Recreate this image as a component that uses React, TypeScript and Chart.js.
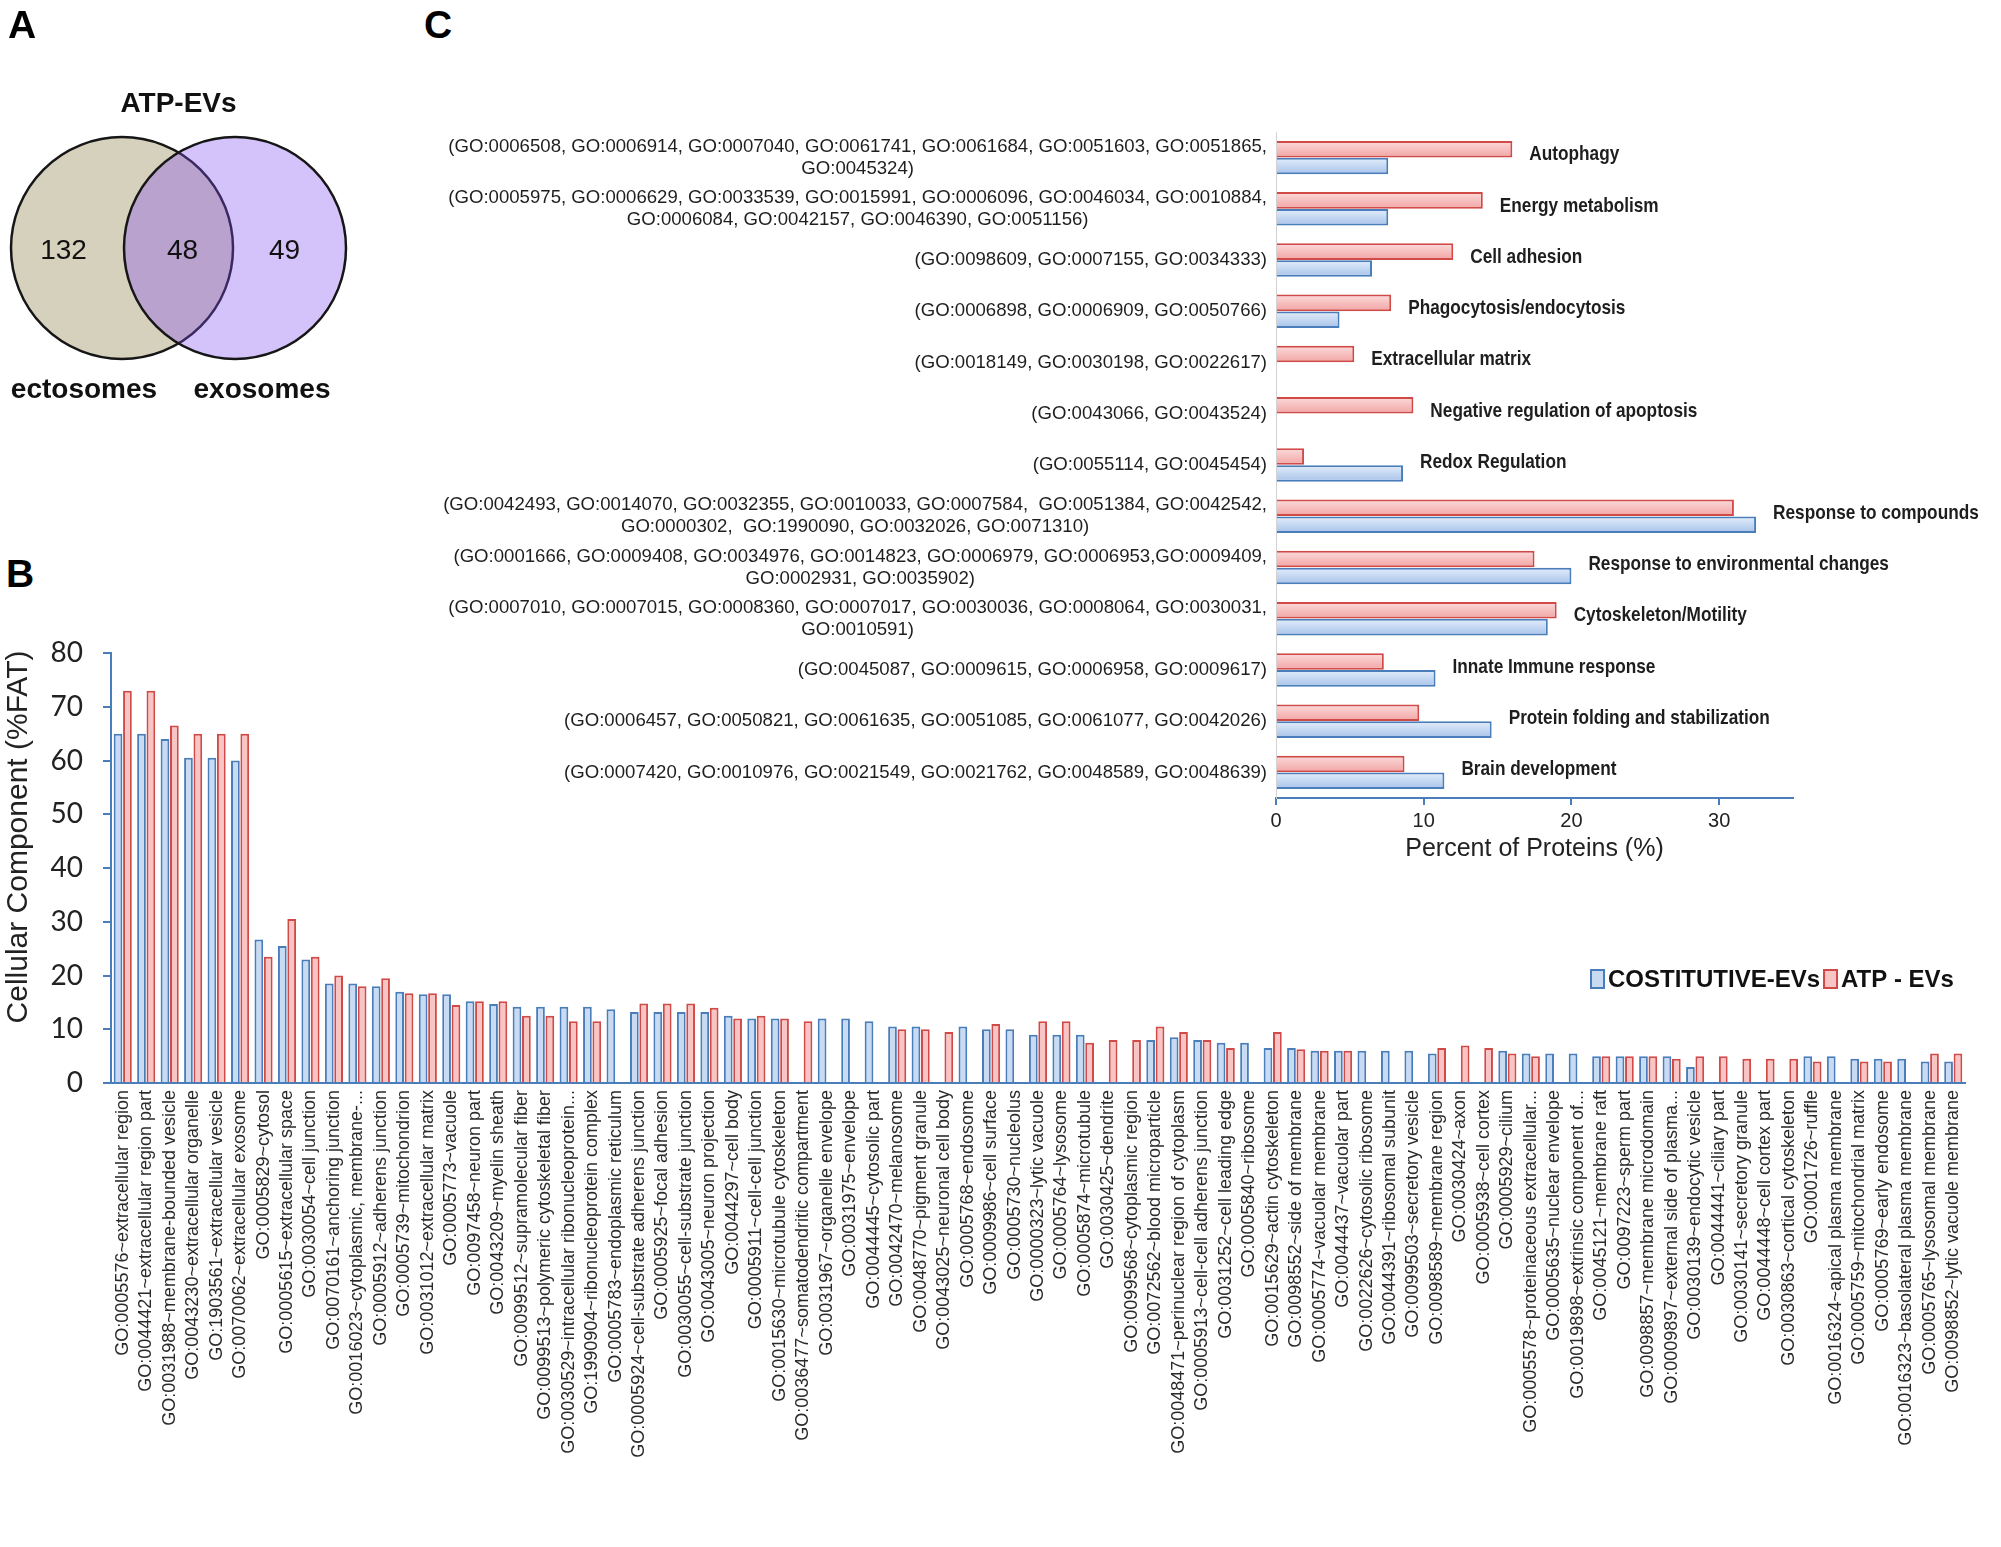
import React, { useEffect, useRef } from "react";
import { Chart, registerables } from "chart.js";

Chart.register(...registerables);

const FONT = '"Liberation Sans", Arial, sans-serif';
const TICKFONT = 'Lato, "Liberation Sans", sans-serif';

// ---------- Panel A : Venn ----------
const vennTitle = "ATP-EVs";
const vennSets = ["ectosomes", "exosomes"];
// [only ectosomes, shared, only exosomes]
const vennCounts = [132, 48, 49];

// ---------- Panel B : Cellular component ----------
const ccLabels = [
  "GO:0005576~extracellular region",
  "GO:0044421~extracellular region part",
  "GO:0031988~membrane-bounded vesicle",
  "GO:0043230~extracellular organelle",
  "GO:1903561~extracellular vesicle",
  "GO:0070062~extracellular exosome",
  "GO:0005829~cytosol",
  "GO:0005615~extracellular space",
  "GO:0030054~cell junction",
  "GO:0070161~anchoring junction",
  "GO:0016023~cytoplasmic, membrane-...",
  "GO:0005912~adherens junction",
  "GO:0005739~mitochondrion",
  "GO:0031012~extracellular matrix",
  "GO:0005773~vacuole",
  "GO:0097458~neuron part",
  "GO:0043209~myelin sheath",
  "GO:0099512~supramolecular fiber",
  "GO:0099513~polymeric cytoskeletal fiber",
  "GO:0030529~intracellular ribonucleoprotein...",
  "GO:1990904~ribonucleoprotein complex",
  "GO:0005783~endoplasmic reticulum",
  "GO:0005924~cell-substrate adherens junction",
  "GO:0005925~focal adhesion",
  "GO:0030055~cell-substrate junction",
  "GO:0043005~neuron projection",
  "GO:0044297~cell body",
  "GO:0005911~cell-cell junction",
  "GO:0015630~microtubule cytoskeleton",
  "GO:0036477~somatodendritic compartment",
  "GO:0031967~organelle envelope",
  "GO:0031975~envelope",
  "GO:0044445~cytosolic part",
  "GO:0042470~melanosome",
  "GO:0048770~pigment granule",
  "GO:0043025~neuronal cell body",
  "GO:0005768~endosome",
  "GO:0009986~cell surface",
  "GO:0005730~nucleolus",
  "GO:0000323~lytic vacuole",
  "GO:0005764~lysosome",
  "GO:0005874~microtubule",
  "GO:0030425~dendrite",
  "GO:0099568~cytoplasmic region",
  "GO:0072562~blood microparticle",
  "GO:0048471~perinuclear region of cytoplasm",
  "GO:0005913~cell-cell adherens junction",
  "GO:0031252~cell leading edge",
  "GO:0005840~ribosome",
  "GO:0015629~actin cytoskeleton",
  "GO:0098552~side of membrane",
  "GO:0005774~vacuolar membrane",
  "GO:0044437~vacuolar part",
  "GO:0022626~cytosolic ribosome",
  "GO:0044391~ribosomal subunit",
  "GO:0099503~secretory vesicle",
  "GO:0098589~membrane region",
  "GO:0030424~axon",
  "GO:0005938~cell cortex",
  "GO:0005929~cilium",
  "GO:0005578~proteinaceous extracellular...",
  "GO:0005635~nuclear envelope",
  "GO:0019898~extrinsic component of...",
  "GO:0045121~membrane raft",
  "GO:0097223~sperm part",
  "GO:0098857~membrane microdomain",
  "GO:0009897~external side of plasma...",
  "GO:0030139~endocytic vesicle",
  "GO:0044441~ciliary part",
  "GO:0030141~secretory granule",
  "GO:0044448~cell cortex part",
  "GO:0030863~cortical cytoskeleton",
  "GO:0001726~ruffle",
  "GO:0016324~apical plasma membrane",
  "GO:0005759~mitochondrial matrix",
  "GO:0005769~early endosome",
  "GO:0016323~basolateral plasma membrane",
  "GO:0005765~lysosomal membrane",
  "GO:0098852~lytic vacuole membrane",
];

const ccConstitutive: (number | null)[] = [
  65, 65, 64, 60.5, 60.5, 60, 26.7, 25.5, 23, 18.5,
  18.5, 18, 17, 16.5, 16.5, 15.2, 14.7, 14.2, 14.2, 14.2,
  14.2, 13.7, 13.2, 13.2, 13.2, 13.2, 12.5, 12, 12, null,
  12, 12, 11.5, 10.5, 10.5, null, 10.5, 10, 10, 9,
  9, 9, null, null, 8, 8.5, 8, 7.5, 7.5, 6.5,
  6.5, 6, 6, 6, 6, 6, 5.5, null, null, 6,
  5.5, 5.5, 5.5, 5, 5, 5, 5, 3, null, null,
  null, null, 5, 5, 4.5, 4.5, 4.5, 4, 4,
];

const ccATP: (number | null)[] = [
  73, 73, 66.5, 65, 65, 65, 23.5, 30.5, 23.5, 20,
  18, 19.5, 16.7, 16.7, 14.5, 15.2, 15.2, 12.5, 12.5, 11.5,
  11.5, null, 14.8, 14.8, 14.8, 14, 12, 12.5, 12, 11.5,
  null, null, null, 10, 10, 9.5, null, 11, null, 11.5,
  11.5, 7.5, 8, 8, 10.5, 9.5, 8, 6.5, null, 9.5,
  6.3, 6, 6, null, null, null, 6.5, 7, 6.5, 5.5,
  5, null, null, 5, 5, 5, 4.5, 5, 5, 4.5,
  4.5, 4.5, 4, null, 4, 4, null, 5.5, 5.5,
];

const seriesNames = ["COSTITUTIVE-EVs", "ATP - EVs"];
const ccYTitle = "Cellular Component (%FAT)";

// ---------- Panel C : Biological process ----------
const bpNames = [
  "Autophagy",
  "Energy metabolism",
  "Cell adhesion",
  "Phagocytosis/endocytosis",
  "Extracellular matrix",
  "Negative regulation of apoptosis",
  "Redox Regulation",
  "Response to compounds",
  "Response to environmental changes",
  "Cytoskeleton/Motility",
  "Innate Immune response",
  "Protein folding and stabilization",
  "Brain development",
];

const bpTerms: string[][] = [
  ["(GO:0006508, GO:0006914, GO:0007040, GO:0061741, GO:0061684, GO:0051603, GO:0051865,", "GO:0045324)"],
  ["(GO:0005975, GO:0006629, GO:0033539, GO:0015991, GO:0006096, GO:0046034, GO:0010884,", "GO:0006084, GO:0042157, GO:0046390, GO:0051156)"],
  ["(GO:0098609, GO:0007155, GO:0034333)"],
  ["(GO:0006898, GO:0006909, GO:0050766)"],
  ["(GO:0018149, GO:0030198, GO:0022617)"],
  ["(GO:0043066, GO:0043524)"],
  ["(GO:0055114, GO:0045454)"],
  ["(GO:0042493, GO:0014070, GO:0032355, GO:0010033, GO:0007584,  GO:0051384, GO:0042542,", "GO:0000302,  GO:1990090, GO:0032026, GO:0071310)"],
  ["(GO:0001666, GO:0009408, GO:0034976, GO:0014823, GO:0006979, GO:0006953,GO:0009409,", "GO:0002931, GO:0035902)"],
  ["(GO:0007010, GO:0007015, GO:0008360, GO:0007017, GO:0030036, GO:0008064, GO:0030031,", "GO:0010591)"],
  ["(GO:0045087, GO:0009615, GO:0006958, GO:0009617)"],
  ["(GO:0006457, GO:0050821, GO:0061635, GO:0051085, GO:0061077, GO:0042026)"],
  ["(GO:0007420, GO:0010976, GO:0021549, GO:0021762, GO:0048589, GO:0048639)"],
];

const bpATP: (number | null)[] = [16.0, 14.0, 12.0, 7.8, 5.3, 9.3, 1.9, 31.0, 17.5, 19.0, 7.3, 9.7, 8.7];
const bpConstitutive: (number | null)[] = [7.6, 7.6, 6.5, 4.3, null, null, 8.6, 32.5, 20.0, 18.4, 10.8, 14.6, 11.4];
const bpXTitle = "Percent of Proteins (%)";

// ---------- styles ----------
const AXIS_BLUE = "#4a7ebb";
const BLUE_BORDER = "#4a7ebb";
const BLUE_FILL = "#c8dbf3";
const RED_BORDER = "#d04a47";
const RED_FILL = "#f8c4c4";

export default function App() {
  const vennRef = useRef<HTMLCanvasElement>(null);
  const ccRef = useRef<HTMLCanvasElement>(null);
  const bpRef = useRef<HTMLCanvasElement>(null);

  useEffect(() => {
    const charts: Chart[] = [];

    // ---------------- Venn ----------------
    const R = 111;
    const cy = 248;
    const cxL = 122;
    const cxR = 235;
    const vennText = {
      id: "vennText",
      afterDatasetsDraw(chart: any) {
        const ctx = chart.ctx;
        ctx.save();
        ctx.fillStyle = "#111";
        ctx.textAlign = "center";
        ctx.textBaseline = "middle";
        ctx.font = `28px ${FONT}`;
        const regions = [
          (cxL - R + cxR - R) / 2 - 4,
          (cxR - R + cxL + R) / 2 + 4,
          (cxL + R + cxR + R) / 2 - 5,
        ];
        vennCounts.forEach((n, i) => ctx.fillText(String(n), regions[i], cy + 3));
        ctx.textBaseline = "alphabetic";
        ctx.font = `bold 28px ${FONT}`;
        ctx.fillText(vennTitle, (cxL + cxR) / 2, 112);
        ctx.fillText(vennSets[0], cxL - 38, 398);
        ctx.fillText(vennSets[1], cxR + 27, 398);
        ctx.restore();
      },
    };
    if (vennRef.current) {
      charts.push(
        new Chart(vennRef.current, {
          type: "bubble",
          data: {
            datasets: [
              {
                label: vennTitle,
                data: [
                  { x: cxL, y: cy, r: R },
                  { x: cxR, y: cy, r: R },
                ],
                backgroundColor: ["#d6d1bd", "rgba(129,76,241,0.34)"],
                borderColor: "#161616",
                borderWidth: 2.5,
                clip: false,
              },
            ],
          },
          options: {
            animation: false,
            responsive: false,
            maintainAspectRatio: false,
            layout: { padding: 0, autoPadding: false },
            plugins: { legend: { display: false }, tooltip: { enabled: false } },
            scales: {
              x: { type: "linear", min: 0, max: 400, display: false },
              y: { type: "linear", min: 0, max: 420, reverse: true, display: false },
            },
          } as any,
          plugins: [vennText],
        })
      );
    }

    // ---------------- Panel B ----------------
    const ccExtras = {
      id: "ccExtras",
      afterDraw(chart: any) {
        const ctx = chart.ctx;
        ctx.save();
        // y-axis title
        ctx.translate(19, 237);
        ctx.rotate(-Math.PI / 2);
        ctx.fillStyle = "#222";
        ctx.font = `30px ${FONT}`;
        ctx.textAlign = "center";
        ctx.textBaseline = "middle";
        ctx.fillText(ccYTitle, 0, 0);
        ctx.restore();

        // legend
        ctx.save();
        ctx.font = `bold 24px ${FONT}`;
        ctx.textBaseline = "middle";
        ctx.textAlign = "left";
        let x = 1591;
        const y = 379;
        chart.data.datasets.forEach((ds: any) => {
          ctx.fillStyle = ds.backgroundColor;
          ctx.fillRect(x, y - 9, 13, 18);
          ctx.strokeStyle = ds.borderColor;
          ctx.lineWidth = 2;
          ctx.strokeRect(x, y - 9, 13, 18);
          ctx.fillStyle = "#111";
          ctx.fillText(ds.label, x + 17, y + 1);
          x += 17 + ctx.measureText(ds.label).width + 4;
        });
        ctx.restore();
      },
    };

    if (ccRef.current) {
      charts.push(
        new Chart(ccRef.current, {
          type: "bar",
          data: {
            labels: ccLabels,
            datasets: [
              {
                label: seriesNames[0],
                data: ccConstitutive,
                backgroundColor: BLUE_FILL,
                borderColor: BLUE_BORDER,
                borderWidth: 2,
              },
              {
                label: seriesNames[1],
                data: ccATP,
                backgroundColor: RED_FILL,
                borderColor: RED_BORDER,
                borderWidth: 2,
              },
            ],
          },
          options: {
            animation: false,
            responsive: false,
            maintainAspectRatio: false,
            layout: { padding: { top: 53, right: 36, left: 0, bottom: 0 } },
            plugins: { legend: { display: false }, tooltip: { enabled: false } },
            datasets: { bar: { categoryPercentage: 0.8, barPercentage: 0.93 } },
            scales: {
              x: {
                type: "category",
                grid: { display: true, drawOnChartArea: false, drawTicks: false },
                border: { color: AXIS_BLUE, width: 2 },
                ticks: {
                  autoSkip: false,
                  minRotation: 90,
                  maxRotation: 90,
                  padding: 7,
                  color: "#2a2a2a",
                  font: { family: FONT, size: 18 },
                },
                afterFit: (s: any) => {
                  s.height = 417;
                },
              },
              y: {
                type: "linear",
                min: 0,
                max: 80,
                ticks: {
                  stepSize: 10,
                  padding: 20,
                  color: "#222",
                  font: { family: TICKFONT, size: 28 },
                },
                grid: {
                  drawOnChartArea: false,
                  drawTicks: true,
                  tickLength: 8,
                  color: AXIS_BLUE,
                  lineWidth: 2,
                },
                border: { color: AXIS_BLUE, width: 2 },
                afterFit: (s: any) => {
                  s.width = 111;
                },
              },
            },
          } as any,
          plugins: [ccExtras],
        })
      );
    }

    // ---------------- Panel C ----------------
    const CAT_PCT = 0.66;
    const gradFill = (light: string, dark: string, fallback: string) => (c: any) => {
      const chart = c.chart;
      const ys = chart.scales && chart.scales.y;
      const area = chart.chartArea;
      if (!ys || !area || c.dataIndex == null) return fallback;
      const center = ys.getPixelForValue(c.dataIndex);
      const band = ((area.bottom - area.top) / bpNames.length) * CAT_PCT / 2;
      const top = center - band + c.datasetIndex * band;
      const g = chart.ctx.createLinearGradient(0, top, 0, top + band);
      g.addColorStop(0, light);
      g.addColorStop(1, dark);
      return g;
    };

    const bpExtras = {
      id: "bpExtras",
      afterDraw(chart: any) {
        const ctx = chart.ctx;
        const ys = chart.scales.y;
        const xs = chart.scales.x;
        ctx.save();
        ctx.fillStyle = "#1e1e1e";
        ctx.textBaseline = "middle";
        bpTerms.forEach((lines, i) => {
          const c = ys.getPixelForValue(i);
          ctx.font = `18.6px ${FONT}`;
          ctx.textAlign = "center";
          const maxW = Math.max(...lines.map((l) => ctx.measureText(l).width));
          const right = xs.left - 9;
          const cx = right - maxW / 2;
          const lh = 22;
          lines.forEach((l, j) => {
            ctx.fillText(l, cx, c + (j - (lines.length - 1) / 2) * lh);
          });
          const v = Math.max(bpATP[i] ?? 0, bpConstitutive[i] ?? 0);
          const nx = xs.getPixelForValue(v) + 17;
          ctx.save();
          ctx.translate(nx, c - 3);
          ctx.scale(0.82, 1);
          ctx.font = `bold 21px ${FONT}`;
          ctx.textAlign = "left";
          ctx.fillText(bpNames[i], 0, 0);
          ctx.restore();
        });
        ctx.restore();
      },
    };

    if (bpRef.current) {
      charts.push(
        new Chart(bpRef.current, {
          type: "bar",
          data: {
            labels: bpNames,
            datasets: [
              {
                label: seriesNames[1],
                data: bpATP,
                backgroundColor: gradFill("#fcdcdc", "#f2a3a3", RED_FILL),
                borderColor: RED_BORDER,
                borderWidth: 2,
              },
              {
                label: seriesNames[0],
                data: bpConstitutive,
                backgroundColor: gradFill("#e4eefb", "#a6c2ea", BLUE_FILL),
                borderColor: BLUE_BORDER,
                borderWidth: 2,
              },
            ],
          },
          options: {
            indexAxis: "y",
            animation: false,
            responsive: false,
            maintainAspectRatio: false,
            layout: { padding: { top: 32, right: 208, left: 0, bottom: 0 } },
            plugins: { legend: { display: false }, tooltip: { enabled: false } },
            datasets: { bar: { categoryPercentage: CAT_PCT, barPercentage: 0.98 } },
            scales: {
              x: {
                type: "linear",
                min: 0,
                max: 35,
                ticks: {
                  stepSize: 10,
                  includeBounds: false,
                  padding: 4,
                  color: "#222",
                  font: { family: FONT, size: 20 },
                },
                grid: {
                  drawOnChartArea: false,
                  drawTicks: true,
                  tickLength: 7,
                  color: AXIS_BLUE,
                  lineWidth: 2,
                },
                border: { color: AXIS_BLUE, width: 2 },
                title: {
                  display: true,
                  text: bpXTitle,
                  color: "#222",
                  font: { family: FONT, size: 25 },
                  padding: { top: 0, bottom: 16 },
                },
                afterFit: (s: any) => {
                  s.height = 82;
                },
              },
              y: {
                type: "category",
                ticks: { display: false },
                grid: { drawOnChartArea: false, drawTicks: false },
                border: { color: "#d2d2d2", width: 1 },
                afterFit: (s: any) => {
                  s.width = 846;
                },
              },
            },
          } as any,
          plugins: [bpExtras],
        })
      );
    }

    return () => {
      charts.forEach((c) => c.destroy());
    };
  }, []);

  const letter = (left: number, top: number): React.CSSProperties => ({
    position: "absolute",
    left,
    top,
    fontFamily: FONT,
    fontWeight: "bold",
    fontSize: 39,
    lineHeight: 1,
    color: "#000",
  });

  return (
    <div
      style={{
        position: "absolute",
        left: 0,
        top: 0,
        width: 2001,
        height: 1547,
        background: "#fff",
        overflow: "hidden",
      }}
    >
      <canvas
        ref={vennRef}
        width={400}
        height={420}
        style={{ position: "absolute", left: 0, top: 0, width: 400, height: 420 }}
      />
      <canvas
        ref={ccRef}
        width={2001}
        height={900}
        style={{ position: "absolute", left: 0, top: 600, width: 2001, height: 900 }}
      />
      <canvas
        ref={bpRef}
        width={1571}
        height={780}
        style={{ position: "absolute", left: 430, top: 100, width: 1571, height: 780 }}
      />
      <div style={letter(8, 5)}>A</div>
      <div style={letter(6, 554)}>B</div>
      <div style={letter(424, 5)}>C</div>
    </div>
  );
}
